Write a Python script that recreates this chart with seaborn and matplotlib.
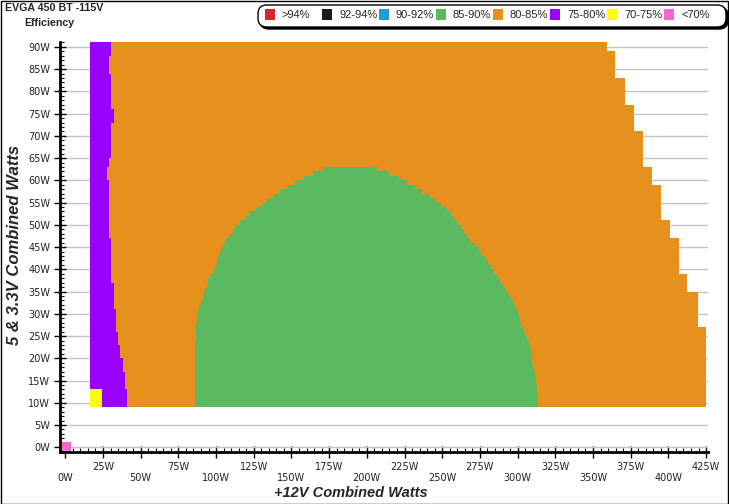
import numpy as np
import matplotlib
matplotlib.use("Agg")
import matplotlib.pyplot as plt
from matplotlib.patches import Rectangle, FancyBboxPatch
from matplotlib.ticker import MultipleLocator
import seaborn as sns

sns.set_style("white")
plt.rcParams["font.family"] = ["DejaVu Sans"]

# efficiency classes and their colours
categories = [">94%", "92-94%", "90-92%", "85-90%", "80-85%", "75-80%", "70-75%", "<70%"]
palette = ["#d9252a", "#1a1a1a", "#1e9fd7", "#5bb95f", "#e6911e", "#9900ff", "#ffff00", "#ff66cc"]
colors = dict(zip(categories, palette))

# 5 & 3.3V load rows (W), one row per watt
dc_rows = list(range(9, 91))
band_start = 16.4   # +12V watts where the measured area begins

# +12V watts where 75-80% ends and 80-85% begins, per row
purple_edge = [40.9, 40.9, 40.9, 40.9, 39.6, 39.6, 39.6, 39.6, 38.1, 38.1,
               38.1, 36.5, 36.5, 36.5, 35.1, 35.1, 35.1, 33.6, 33.6, 33.6,
               33.6, 33.6, 32.3, 32.3, 32.3, 32.3, 32.3, 32.3, 30.1, 30.1,
               30.1, 30.1, 30.1, 30.1, 30.1, 30.1, 30.1, 30.1, 29.0, 29.0,
               29.0, 29.0, 29.0, 29.0, 29.0, 29.0, 29.0, 29.0, 29.0, 29.0,
               29.0, 27.5, 27.5, 27.5, 29.0, 29.0, 30.1, 30.1, 30.1, 30.1,
               30.1, 30.1, 30.1, 30.1, 32.3, 32.3, 32.3, 30.1, 30.1, 30.1,
               30.1, 30.1, 30.1, 30.1, 30.1, 29.0, 29.0, 29.0, 29.0, 30.1,
               30.1, 30.1]

# +12V watts where the 80-85% area ends (max load), per row
orange_right = [424.7] * 18 + [419.4] * 8 + [412.7] * 4 + [406.8] * 8 + \
               [400.8] * 4 + [394.8] * 8 + [388.9] * 4 + [382.9] * 8 + \
               [376.9] * 6 + [371.0] * 6 + [364.3] * 6 + [359.0] * 2

# 85-90% island, rows 9..62
green_rows = list(range(9, 63))
green_left = [86.0] * 13 + [86.2, 86.3, 86.5, 86.6, 86.8, 87.0, 87.3, 87.6, 88.0, 88.7,
                            90.2, 91.2, 92.2, 93.0, 93.9, 94.7, 96.1, 97.7, 99.2, 100.6,
                            101.6, 102.6, 103.5, 105.1, 106.8, 108.9, 111.0, 113.3, 116.2, 119.1,
                            122.8, 126.5, 130.4, 133.9, 138.2, 142.6, 147.3, 152.4, 158.3, 164.4,
                            170.7]
green_right = [313.7, 313.5, 313.3, 313.1, 312.8, 312.4, 311.9, 311.4, 310.9, 310.4,
               309.8, 309.3, 308.8, 308.3, 307.3, 306.2, 305.1, 304.0, 302.8, 301.9,
               300.8, 300.0, 299.1, 297.6, 295.8, 293.7, 291.9, 290.0, 288.2, 286.4,
               284.6, 282.6, 280.6, 278.5, 276.4, 274.3, 271.7, 268.7, 266.5, 264.4,
               262.3, 260.1, 258.1, 255.7, 253.2, 249.9, 245.8, 241.6, 236.9, 231.7,
               226.5, 221.3, 214.6, 207.2]

# 70-75% corner at low load
yellow_rows = [9, 10, 11, 12]
yellow_end = 24.1

# <70% point at no load
pink_x, pink_y = 0, 0

W, H = 729, 504
fig = plt.figure(figsize=(W / 100, H / 100), dpi=100)
ax = fig.add_axes([60 / W, 52 / H, 648 / W, 410 / H])

kw = dict(height=1, align="edge", linewidth=0, antialiased=False)
rows = np.array(dc_rows)
ax.barh(rows, np.array(purple_edge) - band_start, left=band_start, color=colors["75-80%"], **kw)
ax.barh(yellow_rows, yellow_end - band_start, left=band_start, color=colors["70-75%"], **kw)
ax.barh(rows, np.array(orange_right) - np.array(purple_edge), left=purple_edge,
        color=colors["80-85%"], **kw)
ax.barh(green_rows, np.array(green_right) - np.array(green_left), left=green_left,
        color=colors["85-90%"], **kw)
ax.bar(pink_x, 2.2, bottom=pink_y - 1.1, width=7.6, color=colors["<70%"],
       linewidth=0, antialiased=False)

ax.set_xlim(-3.5, 426.3)
ax.set_ylim(-1.06, 91.1)

xt = np.arange(0, 426, 25)
ax.set_xticks(xt)
ax.set_xticklabels([f"\n{v}W" if v % 50 == 0 else f"{v}W" for v in xt])
ax.xaxis.set_minor_locator(MultipleLocator(5))
yt = np.arange(0, 91, 5)
ax.set_yticks(yt)
ax.set_yticklabels([f"{v}W" for v in yt])
ax.yaxis.set_minor_locator(MultipleLocator(1))
ax.tick_params(which="major", direction="inout", length=9, width=1, color="black",
               labelsize=7, labelcolor="#222222", pad=2.5)
ax.tick_params(which="minor", direction="in", length=3, width=0.8, color="black")
ax.tick_params(axis="x", which="both", bottom=True)
ax.tick_params(axis="y", which="both", left=True)

ax.yaxis.grid(True, which="major", color="#c4c4c4", linewidth=1)
ax.xaxis.grid(False)
ax.set_axisbelow(True)
for s in ["top", "right"]:
    ax.spines[s].set_visible(False)
for s in ["left", "bottom"]:
    ax.spines[s].set_linewidth(2)
    ax.spines[s].set_color("black")

lab = dict(family="Liberation Sans", weight="bold", style="italic")
fig.text(351 / W, 1 - 493 / H, "+12V Combined Watts", fontsize=10.5, ha="center", va="center", **lab)
fig.text(15 / W, 1 - 245 / H, "5 & 3.3V Combined Watts", fontsize=12, rotation=90,
         ha="center", va="center", **lab)

fig.text(5 / W, 1 - 8 / H, "EVGA 450 BT -115V", fontsize=7.7, weight="bold",
         family="Liberation Sans", va="center")
fig.text(24 / W, 1 - 23 / H, "Efficiency", fontsize=7.7, weight="bold",
         family="Liberation Sans", va="center")

# legend box with shadow
tf = fig.transFigure
for off, fc in [(2, "black"), (0, "white")]:
    fig.patches.append(FancyBboxPatch(((258 + off) / W, 1 - (27 + off) / H), 468 / W, 22 / H,
                                      boxstyle="round,pad=0,rounding_size=0.012",
                                      transform=tf, facecolor=fc, edgecolor="black",
                                      linewidth=1, mutation_aspect=W / H))
for i, (cat, col) in enumerate(zip(categories, palette)):
    x0 = 265 + 57 * i
    fig.patches.append(Rectangle((x0 / W, 1 - 19.5 / H), 10 / W, 10 / H, transform=tf,
                                 facecolor=col, edgecolor="none"))
    fig.text((x0 + 17) / W, 1 - 14.5 / H, cat, fontsize=8, family="Liberation Sans",
             va="center", ha="left")

# outer frame
fig.patches.append(Rectangle((0.5 / W, 0.5 / H), 1 - 1.5 / W, 1 - 1.5 / H, transform=tf,
                             facecolor="none", edgecolor="black", linewidth=1))

fig.savefig("out.png", dpi=100)
